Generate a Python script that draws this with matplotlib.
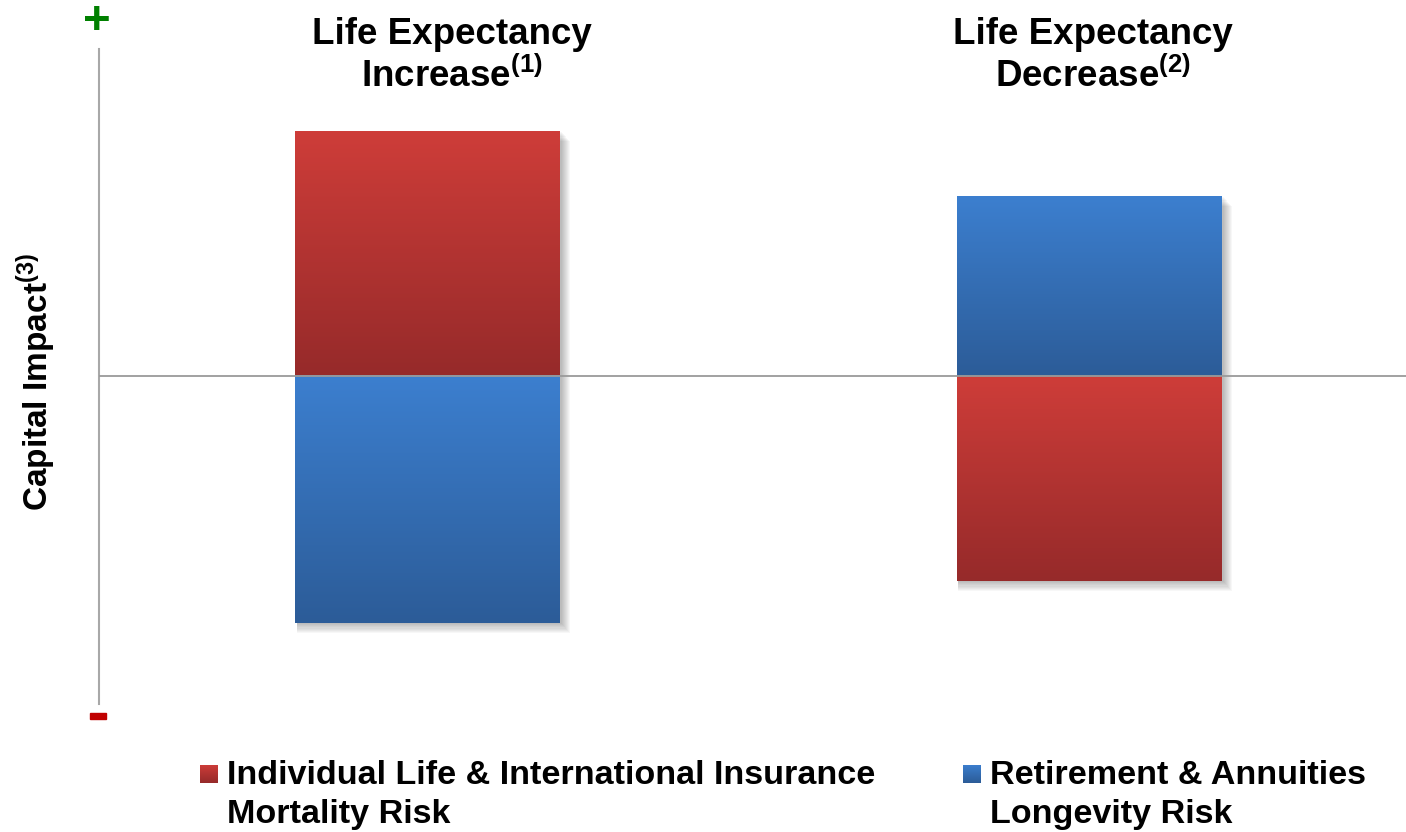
import numpy as np
import matplotlib
matplotlib.use("Agg")
from matplotlib import pyplot as plt
from matplotlib.patches import Rectangle

plt.rcParams['font.family'] = ['Liberation Sans', 'DejaVu Sans']
plt.rcParams['mathtext.fontset'] = 'custom'
plt.rcParams['mathtext.rm'] = 'Liberation Sans:bold'
plt.rcParams['mathtext.bf'] = 'Liberation Sans:bold'

# data (capital impact, arbitrary units)
scenarios = ['Life Expectancy\nIncrease$^{(1)}$', 'Life Expectancy\nDecrease$^{(2)}$']
mortality = [2.45, -2.05]    # Individual Life & International Insurance
longevity = [-2.47, 1.80]    # Retirement & Annuities
legend_labels = ['Individual Life & International Insurance\nMortality Risk',
                 'Retirement & Annuities\nLongevity Risk']

red_top, red_bot = np.array([206, 61, 57]) / 255, np.array([150, 42, 42]) / 255
blue_top, blue_bot = np.array([60, 127, 207]) / 255, np.array([44, 92, 152]) / 255

W, H = 1406, 832
fig = plt.figure(figsize=(W / 100, H / 100), dpi=100)
ax = fig.add_axes([99 / W, (H - 704) / H, (W - 99) / W, (704 - 49) / H])

x = np.arange(len(scenarios))
width = 0.40


def grad_bar(xc, y0, y1, c_top, c_bot):
    lo, hi = min(y0, y1), max(y0, y1)
    x0, x1 = xc - width / 2, xc + width / 2
    # soft drop shadow
    for k in range(1, 10):
        ax.add_patch(Rectangle((x0 + 0.002, lo - 0.011 * k), width + 0.0015 * k, hi - lo,
                               color='k', alpha=0.03, lw=0, zorder=1))
    t = np.linspace(0, 1, 200)[:, None]
    img = (1 - t)[..., None] * c_top + t[..., None] * c_bot
    ax.imshow(img, extent=[x0, x1, lo, hi], aspect='auto', zorder=2,
              interpolation='bilinear', origin='upper')


for i in range(len(x)):
    grad_bar(x[i], 0, mortality[i], red_top, red_bot)
    grad_bar(x[i], 0, longevity[i], blue_top, blue_bot)

ax.set_xlim(-0.497, 1.479)
ax.set_ylim(-3.28, 3.27)
ax.axhline(0, color='#9a9a9a', lw=1.3, zorder=3)
for s in ['top', 'right', 'bottom']:
    ax.spines[s].set_visible(False)
ax.spines['left'].set_color('#a8a8a8')
ax.spines['left'].set_linewidth(1.5)
ax.set_xticks([])
ax.set_yticks([])

# scenario titles
for i, lab in enumerate(scenarios):
    xs = [452, 1093][i]
    fig.text(xs / W, 1 - 56 / H, lab, ha='center', va='center', fontsize=26.5,
             fontweight='bold', linespacing=1.2)

fig.text(36 / W, 1 - 382 / H, 'Capital Impact$^{(3)}$', rotation=90, ha='center',
         va='center', fontsize=24, fontweight='bold')

fig.text(97 / W, 1 - 22 / H, '+', color='#008000', ha='center', va='center',
         fontsize=34, fontweight='bold')
fig.add_artist(Rectangle((90 / W, 1 - 719 / H), 16 / W, 6 / H, color='#c00000',
                         transform=fig.transFigure))

# legend
leg_x = [200, 963]
for i, lab in enumerate(legend_labels):
    c_top, c_bot = (red_top, red_bot) if i == 0 else (blue_top, blue_bot)
    lax = fig.add_axes([leg_x[i] / W, 1 - 783 / H, 18 / W, 18 / H])
    t = np.linspace(0, 1, 50)[:, None]
    lax.imshow((1 - t)[..., None] * c_top + t[..., None] * c_bot, aspect='auto')
    lax.axis('off')
    fig.text((leg_x[i] + 27) / W, 1 - 795 / H, lab, ha='left', va='center',
             fontsize=24.6, fontweight='bold', linespacing=1.3)

fig.savefig('out.png', dpi=100)
